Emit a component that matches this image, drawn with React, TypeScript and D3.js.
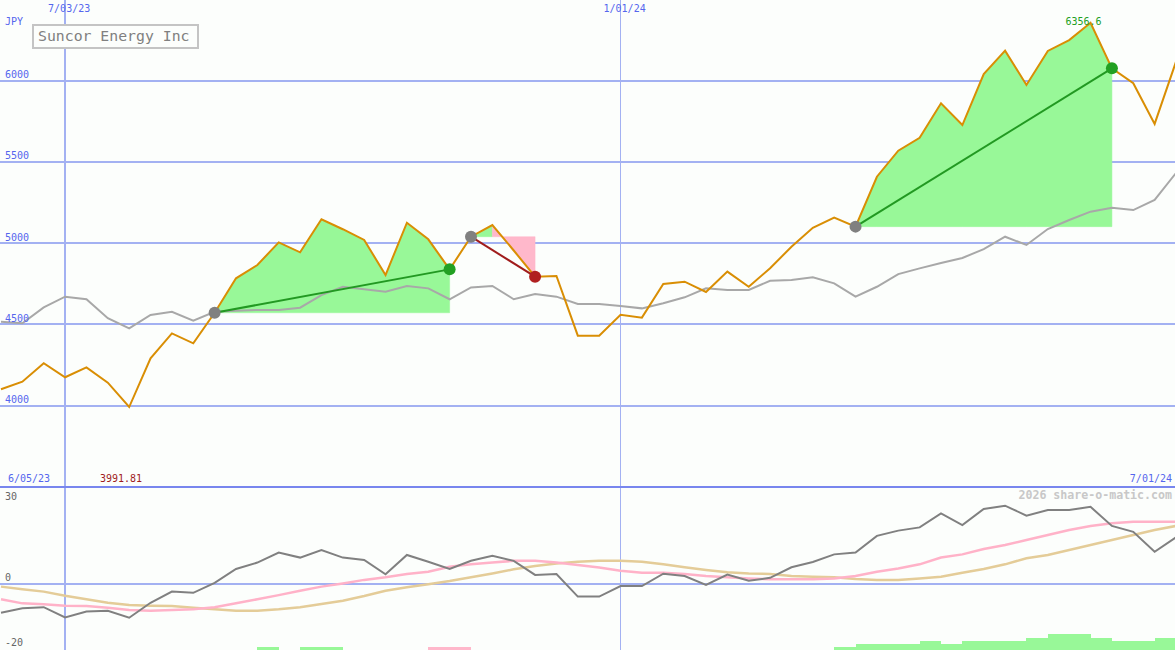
import React from 'react'
import { scaleLinear, line, area } from 'd3'

const W = 1175
const H = 650

// weekly closes, 6/12/23 .. 7/01/24
const price = [
  4101, 4148, 4261, 4175, 4236, 4142, 3991.81, 4292, 4445, 4384,
  4572, 4784, 4866, 5005, 4944, 5147, 5086, 5020, 4804, 5126,
  5024, 4839, 5040, 5112, 4955, 4794, 4798, 4431, 4431, 4560,
  4542, 4749, 4763, 4700, 4825, 4732, 4846, 4978, 5095, 5157,
  5102, 5409, 5569, 5649, 5861, 5727, 6041, 6185, 5974, 6183,
  6250, 6356.6, 6076, 5984, 5734, 6117
]

const average = [
  4517, 4507, 4605, 4671, 4655, 4538, 4476, 4558, 4578, 4523,
  4578, 4585, 4589, 4589, 4603, 4681, 4732, 4716, 4702, 4737,
  4722, 4655, 4728, 4737, 4655, 4687, 4671, 4626, 4626, 4614,
  4599, 4630, 4667, 4722, 4712, 4712, 4769, 4773, 4790, 4753,
  4671, 4732, 4810, 4845, 4878, 4909, 4964, 5040, 4989, 5087,
  5143, 5194, 5218, 5204, 5266, 5432
]

const oscillator = [
  -9.9, -8.4, -8.0, -11.5, -9.5, -9.2, -11.6, -6.5, -2.7, -3.1,
  0.3, 5.0, 7.2, 10.6, 8.9, 11.5, 8.9, 8.1, 3.2, 9.8,
  7.5, 5.0, 7.8, 9.5, 7.8, 3.0, 3.3, -4.4, -4.4, -0.8,
  -0.8, 3.4, 2.6, -0.4, 3.1, 1.0, 2.0, 5.6, 7.4, 10.0,
  10.6, 16.3, 18.1, 19.2, 24.0, 20.0, 25.5, 26.6, 23.2, 25.1,
  25.1, 26.2, 19.7, 17.7, 10.9, 15.8
]

const fastSignal = [
  -5.3, -6.7, -7.0, -7.5, -7.6, -8.2, -9.0, -9.2, -9.0, -8.7,
  -8.0, -6.7, -5.3, -3.9, -2.4, -1.0, 0.1, 1.3, 2.2, 3.3,
  4.1, 5.8, 6.6, 7.2, 7.8, 7.8, 7.2, 6.4, 5.5, 4.4,
  3.7, 3.7, 3.3, 2.6, 2.2, 1.8, 1.5, 1.5, 1.5, 1.8,
  2.6, 4.1, 5.2, 6.6, 8.9, 10.0, 11.8, 13.2, 14.9, 16.6,
  18.3, 19.7, 20.6, 21.1, 21.1, 21.1
]

const slowSignal = [
  -1.0, -1.9, -2.7, -4.1, -5.3, -6.5, -7.3, -7.5, -7.6, -8.2,
  -8.7, -9.2, -9.2, -8.7, -8.0, -6.9, -5.8, -4.2, -2.4, -1.2,
  -0.2, 0.9, 2.2, 3.5, 4.9, 6.0, 6.9, 7.5, 7.8, 7.8,
  7.5, 6.6, 5.6, 4.7, 3.9, 3.5, 3.3, 2.6, 2.4, 2.2,
  1.6, 1.3, 1.3, 1.8, 2.4, 3.7, 5.0, 6.6, 8.7, 9.8,
  11.5, 13.2, 14.9, 16.6, 18.3, 19.7
]

// one value per week interval; + green, - pink
const signalBars = [
  0, 0, 0, 0, 0, 0, 0, 0, 0, 0,
  0, 0, 1, 0, 1, 1, 0, 0, 0, 0,
  -1, -1, 0, 0, 0, 0, 0, 0, 0, 0,
  0, 0, 0, 0, 0, 0, 0, 0, 0, 1,
  2, 2, 2, 3, 2, 3, 3, 3, 4, 5,
  5, 4, 3, 3, 4
]

const tradeStarts = [10, 22, 40]
const tradeEnds = [21, 25, 52]

const priceTicks = [4000, 4500, 5000, 5500, 6000]
const oscTicks = [30, 0, -20]
const dateTicks = ['7/03/23', '1/01/24']
const dateTickIndex = [3, 29]

const BLUE_GRID = '#a3b1f2'
const BLUE_TEXT = '#5566ee'
const ORANGE = '#d98e04'
const FILL_GREEN = '#98f898'
const FILL_PINK = '#ffb8cb'
const FONT = '"DejaVu Sans Mono", monospace'

export default function App() {
  const x = scaleLinear().domain([0, 55]).range([1, 1176])
  const yP = scaleLinear().domain([4000, 6000]).range([405.7, 80.7])
  const yO = scaleLinear().domain([0, 30]).range([583.7, 495.7])
  const barH = 3.05

  const priceLine = line<number>()
    .x((_, i) => x(i))
    .y((d) => yP(d))
  const oscLine = line<number>()
    .x((_, i) => x(i))
    .y((d) => yO(d))

  const maxIdx = price.indexOf(Math.max(...price))
  const minIdx = price.indexOf(Math.min(...price))

  // fills for each trade, split into runs by colour
  const fills: { d: string; color: string }[] = []
  tradeStarts.forEach((s, t) => {
    const e = tradeEnds[t]
    const base = price[s]
    let runStart = s
    for (let k = s; k < e; k++) {
      const up = price[k + 1] >= base
      const nextUp = k + 1 < e ? price[k + 2] >= base : !up
      if (k + 1 === e || nextUp !== up) {
        const idx = [] as number[]
        for (let j = runStart; j <= k + 1; j++) idx.push(j)
        const a = area<number>()
          .x((j) => x(j))
          .y0(yP(base))
          .y1((j) => yP(price[j]))(idx)
        fills.push({ d: a || '', color: up ? FILL_GREEN : FILL_PINK })
        runStart = k + 1
      }
    }
  })

  return (
    <svg
      width={W}
      height={H}
      style={{ position: 'absolute', left: 0, top: 0, background: '#fcfefc' }}
      fontFamily={FONT}
    >
      <rect width={W} height={H} fill="#fcfefc" />

      {/* grid */}
      <g shapeRendering="crispEdges">
        {priceTicks.map((p) => (
          <line key={p} x1={0} x2={W} y1={yP(p)} y2={yP(p)} stroke={BLUE_GRID} strokeWidth={2} />
        ))}
        {dateTickIndex.map((d, i) => (
          <line key={d} x1={x(d)} x2={x(d)} y1={0} y2={H} stroke={BLUE_GRID} strokeWidth={i === 0 ? 2 : 1} />
        ))}
        <line x1={0} x2={W} y1={yO(0)} y2={yO(0)} stroke={BLUE_GRID} strokeWidth={2} />
        <line x1={0} x2={W} y1={487} y2={487} stroke="#7886ee" strokeWidth={2} />
      </g>

      {/* trade fills */}
      {fills.map((f, i) => (
        <path key={i} d={f.d} fill={f.color} stroke={f.color} strokeWidth={0.5} />
      ))}

      <path d={priceLine(average) || ''} fill="none" stroke="#a8a8a8" strokeWidth={2} />
      <path d={priceLine(price) || ''} fill="none" stroke={ORANGE} strokeWidth={2} />

      {/* trade lines and dots */}
      {tradeStarts.map((s, t) => {
        const e = tradeEnds[t]
        const win = price[e] >= price[s]
        return (
          <g key={s}>
            <line
              x1={x(s)}
              y1={yP(price[s])}
              x2={x(e)}
              y2={yP(price[e])}
              stroke={win ? '#229922' : '#a01c1c'}
              strokeWidth={2}
            />
            <circle cx={x(s)} cy={yP(price[s])} r={6} fill="#808080" />
            <circle cx={x(e)} cy={yP(price[e])} r={6} fill={win ? '#22a022' : '#b02020'} />
          </g>
        )
      })}

      {/* price labels */}
      <g fontSize={10} fill={BLUE_TEXT}>
        <text x={5} y={25}>JPY</text>
        {priceTicks.map((p) => (
          <text key={p} x={5} y={yP(p) - 2.5}>
            {p}
          </text>
        ))}
        {dateTicks.map((d, i) => (
          <text key={d} x={x(dateTickIndex[i]) - 17} y={12}>
            {d}
          </text>
        ))}
        <text x={8} y={482}>6/05/23</text>
        <text x={1172} y={482} textAnchor="end">7/01/24</text>
      </g>
      <text x={x(maxIdx) - 7} y={25} fontSize={10} fill="#22a022" textAnchor="middle">
        {price[maxIdx]}
      </text>
      <text x={100} y={482} fontSize={10} fill="#a01c1c">
        {price[minIdx]}
      </text>

      {/* title */}
      <rect x={33} y={25} width={165} height={23} fill="#fcfefc" stroke="#c4c4c4" strokeWidth={2} />
      <text x={38} y={41} fontSize={14.8} fill="#808080">
        Suncor Energy Inc
      </text>

      {/* lower panel */}
      <text x={1172} y={499} fontSize={11.6} fontWeight="bold" fill="#c8c8c8" textAnchor="end">
        2026 share-o-matic.com
      </text>
      <g fontSize={10} fill="#666">
        {oscTicks.map((v) => (
          <text key={v} x={5} y={yO(v) + (v === 0 ? -3 : 4)}>
            {v}
          </text>
        ))}
      </g>
      <path d={oscLine(slowSignal) || ''} fill="none" stroke="#e4cc98" strokeWidth={2.5} />
      <path d={oscLine(fastSignal) || ''} fill="none" stroke="#ffb2c8" strokeWidth={2.5} />
      <path d={oscLine(oscillator) || ''} fill="none" stroke="#808080" strokeWidth={2} />

      <g shapeRendering="crispEdges">
        {signalBars.map((v, i) =>
          v === 0 ? null : (
            <rect
              key={i}
              x={x(i)}
              width={x(i + 1) - x(i)}
              y={H - Math.abs(v) * barH - 0.3}
              height={Math.abs(v) * barH + 0.3}
              fill={v > 0 ? FILL_GREEN : FILL_PINK}
            />
          )
        )}
      </g>
    </svg>
  )
}
